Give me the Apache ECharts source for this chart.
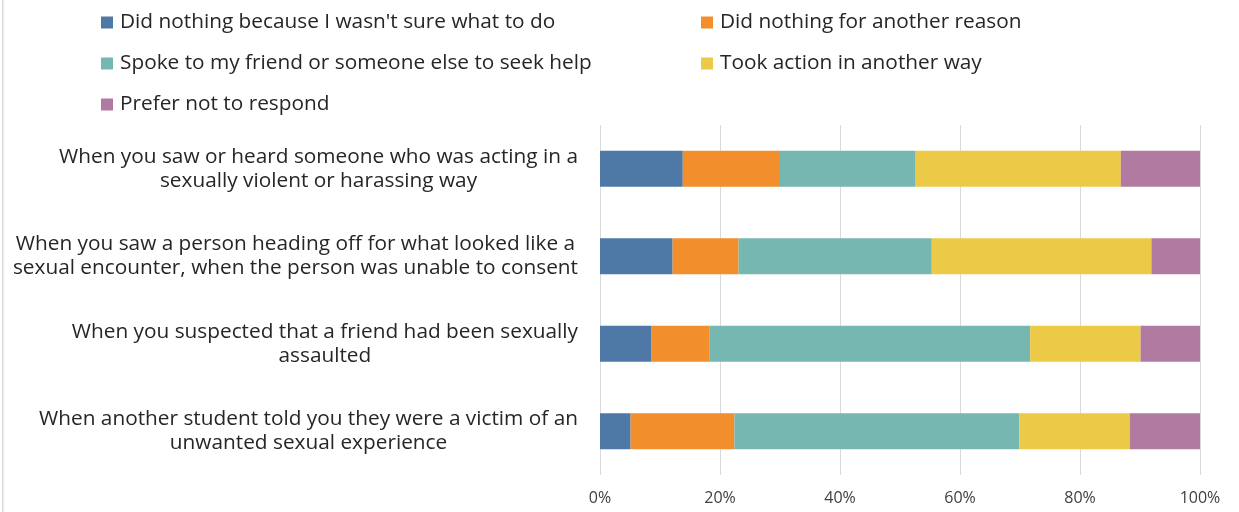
<!DOCTYPE html>
<html>
<head>
<meta charset="utf-8">
<script src="https://cdn.jsdelivr.net/npm/echarts@6/dist/echarts.min.js"></script>
<style>
  html, body { margin: 0; padding: 0; background: #ffffff; }
  #chart { width: 1239px; height: 512px; }
</style>
</head>
<body>
<div id="chart"></div>
<script>
// Bystander responses, share of respondents per situation (percent)
const categories = [
  'When you saw or heard someone who was acting in a\nsexually violent or harassing way',
  'When you saw a person heading off for what looked like a\nsexual encounter, when the person was unable to consent',
  'When you suspected that a friend had been sexually\nassaulted',
  'When another student told you they were a victim of an\nunwanted sexual experience'
];
const seriesNames = [
  "Did nothing because I wasn't sure what to do",
  'Did nothing for another reason',
  'Spoke to my friend or someone else to seek help',
  'Took action in another way',
  'Prefer not to respond'
];
const notSure      = [13.8, 12.1, 8.6, 5.1];
const otherReason  = [16.2, 11.0, 9.7, 17.3];
const spokeToFriend= [22.5, 32.2, 53.4, 47.5];
const otherAction  = [34.3, 36.6, 18.4, 18.4];
const preferNot    = [13.2, 8.1, 9.9, 11.7];
const xTicks = [0, 20, 40, 60, 80, 100];

const colors = ['#4E79A7', '#F28E2B', '#76B7B2', '#EDC948', '#B07AA1'];
const values = [notSure, otherReason, spokeToFriend, otherAction, preferNot];
const FONT = 'Open Sans';
const TEXT_SIZE = 20.8;

const chart = echarts.init(document.getElementById('chart'), null, { renderer: 'canvas' });

const series = seriesNames.map((name, i) => ({
  name: name,
  type: 'bar',
  stack: 'total',
  barWidth: '41%',
  itemStyle: { color: colors[i] },
  emphasis: { disabled: true },
  data: values[i]
}));

const legendText = {
  fontFamily: FONT, fontSize: TEXT_SIZE, lineHeight: 20, color: '#262626',
  padding: [0, 0, 0, 2]
};

chart.setOption({
  animation: false,
  color: colors,
  grid: { left: 600, right: 39, top: 125, bottom: 37, containLabel: false },
  legend: [
    {
      orient: 'vertical', left: 101, top: 12, padding: 0,
      itemWidth: 12, itemHeight: 12, itemGap: 20,
      icon: 'rect', selectedMode: false,
      textStyle: legendText,
      data: [seriesNames[0], seriesNames[2], seriesNames[4]]
    },
    {
      orient: 'vertical', left: 701, top: 12, padding: 0,
      itemWidth: 12, itemHeight: 12, itemGap: 20,
      icon: 'rect', selectedMode: false,
      textStyle: legendText,
      data: [seriesNames[1], seriesNames[3]]
    }
  ],
  xAxis: {
    type: 'value',
    min: xTicks[0], max: xTicks[xTicks.length - 1], interval: 20,
    axisLine: { show: false },
    axisTick: { show: false },
    splitLine: { show: true, lineStyle: { color: '#d9d9d9', width: 1 } },
    axisLabel: {
      formatter: v => v + '%',
      fontFamily: FONT, fontSize: 16, color: '#404040', margin: 15
    }
  },
  yAxis: {
    type: 'category',
    inverse: true,
    data: categories,
    axisLine: { show: false },
    axisTick: { show: false },
    axisLabel: {
      margin: 22,
      formatter: v => v.split('\n').map(l => '{c|' + l + '}').join('\n'),
      rich: {
        c: { align: 'center', fontFamily: FONT, fontSize: TEXT_SIZE, color: '#262626', lineHeight: 24 }
      }
    }
  },
  graphic: [
    {
      type: 'rect', silent: true,
      shape: { x: 2, y: 0, width: 1.5, height: 512 },
      style: { fill: '#d9d9d9' }
    }
  ],
  series: series
});
</script>
</body>
</html>
